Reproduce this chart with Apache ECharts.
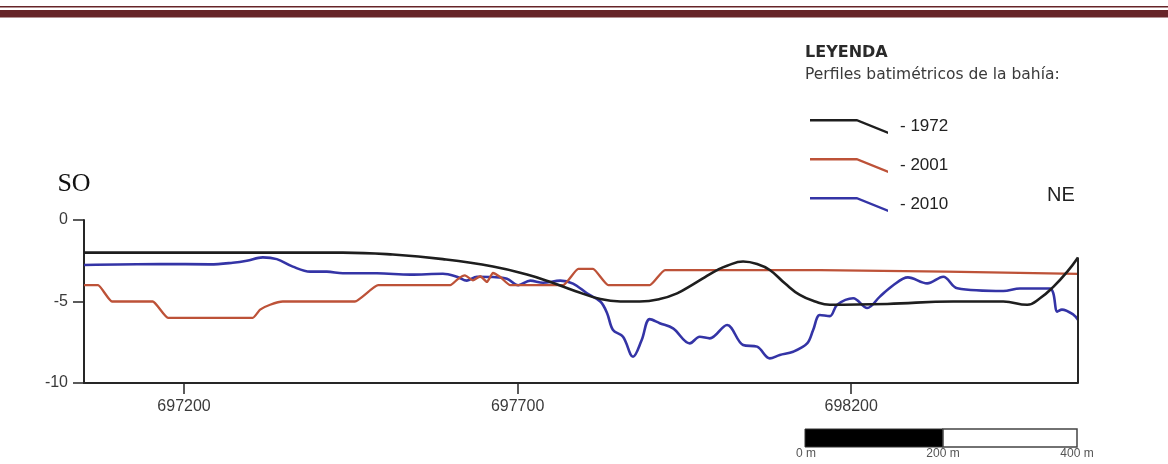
<!DOCTYPE html>
<html>
<head>
<meta charset="utf-8">
<script src="https://cdn.jsdelivr.net/npm/echarts@6/dist/echarts.min.js"></script>
<style>
  html, body { margin: 0; padding: 0; background: #fff; }
  #chart { width: 1168px; height: 464px; }
</style>
</head>
<body>
<div id="chart"></div>
<script>
// Axis extents (UTM easting, depth in metres)
const xRange = [697050, 698540];
const yRange = [-10, 0];
const xTicks = [697200, 697700, 698200];

// Bathymetric profile 1972
const x1972 = [697050, 697438, 697513, 697588, 697663, 697714, 697749, 697786, 697824, 697854,
  697883, 697913, 697939, 697963, 697981, 697999, 698014, 698038, 698059, 698078,
  698101, 698123, 698146, 698168, 698254, 698353, 698428, 698464, 698483, 698503,
  698524, 698540];
const depth1972 = [-2.0, -2.0, -2.12, -2.4, -2.85, -3.35, -3.8, -4.35, -4.85, -5.0,
  -5.0, -4.85, -4.5, -3.95, -3.5, -3.07, -2.8, -2.55, -2.7, -3.07,
  -3.9, -4.6, -5.0, -5.2, -5.15, -5.0, -5.0, -5.2, -4.8, -4.1,
  -3.17, -2.3];

// Bathymetric profile 2001
const x2001 = [697050, 697071, 697092, 697153, 697176, 697303, 697314, 697329, 697348, 697456,
  697491, 697599, 697611, 697621, 697633, 697644, 697654, 697663, 697674, 697689,
  697768, 697791, 697813, 697836, 697898, 697921, 698153, 698540];
const depth2001 = [-4.0, -4.0, -5.0, -5.0, -6.0, -6.0, -5.5, -5.2, -5.0, -5.0,
  -4.0, -4.0, -3.6, -3.4, -3.7, -3.45, -3.8, -3.25, -3.5, -4.0,
  -4.0, -3.0, -3.0, -4.0, -4.0, -3.07, -3.07, -3.3];

// Bathymetric profile 2010
const x2010 = [697050, 697164, 697239, 697273, 697294, 697318, 697339, 697363, 697389, 697414,
  697438, 697489, 697539, 697588, 697609, 697624, 697639, 697663, 697684, 697701,
  697719, 697738, 697764, 697783, 697804, 697824, 697834, 697843, 697858, 697873,
  697886, 697898, 697913, 697933, 697958, 697973, 697988, 698014, 698038, 698059,
  698078, 698093, 698113, 698134, 698143, 698153, 698168, 698179, 698203, 698224,
  698243, 698263, 698285, 698314, 698338, 698359, 698428, 698453, 698498, 698503,
  698509, 698516, 698533, 698540];
const depth2010 = [-2.76, -2.7, -2.72, -2.62, -2.5, -2.29, -2.4, -2.86, -3.17, -3.17,
  -3.27, -3.27, -3.35, -3.3, -3.48, -3.72, -3.48, -3.5, -3.6, -4.0,
  -3.72, -3.85, -3.72, -3.9, -4.5, -5.0, -5.7, -6.75, -7.16, -8.39,
  -7.36, -6.08, -6.33, -6.65, -7.57, -7.16, -7.26, -6.44, -7.67, -7.77,
  -8.49, -8.28, -8.08, -7.57, -6.75, -5.83, -5.9, -5.2, -4.8, -5.4,
  -4.7, -4.0, -3.52, -3.89, -3.48, -4.19, -4.36, -4.2, -4.2, -4.5,
  -5.62, -5.5, -5.8, -6.13];

const years = ['1972', '2001', '2010'];
const colors = { '1972': '#1e1e1e', '2001': '#bd5238', '2010': '#3434a6' };

const pairs = (xs, ys) => xs.map((x, i) => [x, ys[i]]);

const chart = echarts.init(document.getElementById('chart'), null, { renderer: 'canvas' });

const axisColor = '#262626';
const labelFont = { fontFamily: 'Liberation Sans, Arial, sans-serif', fontSize: 16, color: '#3a3a3a' };

const option = {
  animation: false,
  backgroundColor: '#fff',
  grid: { left: 84, right: 90, top: 220, bottom: 81, containLabel: false, outerBoundsMode: 'none' },
  xAxis: {
    type: 'value',
    min: xRange[0],
    max: xRange[1],
    axisLine: { show: true, onZero: false, lineStyle: { color: axisColor, width: 2 } },
    axisTick: { show: true, length: 11, customValues: xTicks, lineStyle: { color: axisColor, width: 1.5 } },
    axisLabel: Object.assign({ customValues: xTicks, margin: 16, formatter: v => String(v) }, labelFont),
    splitLine: { show: false }
  },
  yAxis: {
    type: 'value',
    min: yRange[0],
    max: yRange[1],
    interval: 5,
    axisLine: { show: true, onZero: false, lineStyle: { color: axisColor, width: 2 } },
    axisTick: { show: true, length: 11, lineStyle: { color: axisColor, width: 1.5 } },
    axisLabel: Object.assign({ margin: 16 }, labelFont),
    splitLine: { show: false }
  },
  legend: {
    data: years,
    orient: 'vertical',
    left: 805,
    top: 113,
    itemWidth: 78,
    itemHeight: 15,
    itemGap: 22,
    selectedMode: false,
    icon: 'path://M0,0L47,0L78,12.5L78,15L47,2.5L0,2.5Z',
    formatter: '- {name}',
    textStyle: { fontFamily: 'Liberation Sans, Arial, sans-serif', fontSize: 17, color: '#222', padding: [4, 0, 0, 7] }
  },
  series: [
    {
      name: '2010', type: 'line', data: pairs(x2010, depth2010), showSymbol: false, symbol: 'none',
      smooth: 0.35, z: 2,
      lineStyle: { color: colors['2010'], width: 2.6 }, itemStyle: { color: colors['2010'] }
    },
    {
      name: '2001', type: 'line', data: pairs(x2001, depth2001), showSymbol: false, symbol: 'none',
      smooth: 0.15, z: 3,
      lineStyle: { color: colors['2001'], width: 2.3 }, itemStyle: { color: colors['2001'] }
    },
    {
      name: '1972', type: 'line', data: pairs(x1972, depth1972), showSymbol: false, symbol: 'none',
      smooth: 0.45, z: 4,
      lineStyle: { color: colors['1972'], width: 2.6 }, itemStyle: { color: colors['1972'] }
    },
    {
      // closing edge of the profile box on the NE side
      name: 'borde', type: 'line', symbol: 'none', z: 5,
      data: [[xRange[1], yRange[0]], [xRange[1], depth1972[depth1972.length - 1]]],
      lineStyle: { color: axisColor, width: 2 }
    }
  ],
  graphic: [
    // double rule along the top edge
    { type: 'rect', left: 0, top: 6, shape: { width: 1168, height: 1.6 }, style: { fill: '#662428' } },
    { type: 'rect', left: 0, top: 10, shape: { width: 1168, height: 7.6 }, style: { fill: '#662428' } },
    // orientation labels
    { type: 'text', x: 74, y: 184, style: { text: 'SO', font: '26px "Liberation Serif", "Times New Roman", serif', fill: '#111', align: 'center', verticalAlign: 'middle' } },
    { type: 'text', x: 1047, y: 195, style: { text: 'NE', font: '20px "Liberation Sans", Arial, sans-serif', fill: '#222', align: 'left', verticalAlign: 'middle' } },
    // legend heading
    { type: 'text', x: 805, y: 53, style: { text: 'LEYENDA', font: 'bold 16px "DejaVu Sans", sans-serif', fill: '#2a2a2a', align: 'left', verticalAlign: 'middle' } },
    { type: 'text', x: 805, y: 75, style: { text: 'Perfiles batimétricos de la bahía:', font: '15.5px "DejaVu Sans", sans-serif', fill: '#3a3a3a', align: 'left', verticalAlign: 'middle' } },
    // scale bar
    { type: 'rect', shape: { x: 805, y: 429, width: 138, height: 18 }, style: { fill: '#000', stroke: '#333', lineWidth: 1 } },
    { type: 'rect', shape: { x: 943, y: 429, width: 134, height: 18 }, style: { fill: '#fff', stroke: '#444', lineWidth: 1.5 } },
    { type: 'text', x: 806, y: 454, style: { text: '0 m', font: '12px "Liberation Sans", Arial, sans-serif', fill: '#555', align: 'center', verticalAlign: 'middle' } },
    { type: 'text', x: 943, y: 454, style: { text: '200 m', font: '12px "Liberation Sans", Arial, sans-serif', fill: '#555', align: 'center', verticalAlign: 'middle' } },
    { type: 'text', x: 1077, y: 454, style: { text: '400 m', font: '12px "Liberation Sans", Arial, sans-serif', fill: '#555', align: 'center', verticalAlign: 'middle' } }
  ]
};

chart.setOption(option);
</script>
</body>
</html>
